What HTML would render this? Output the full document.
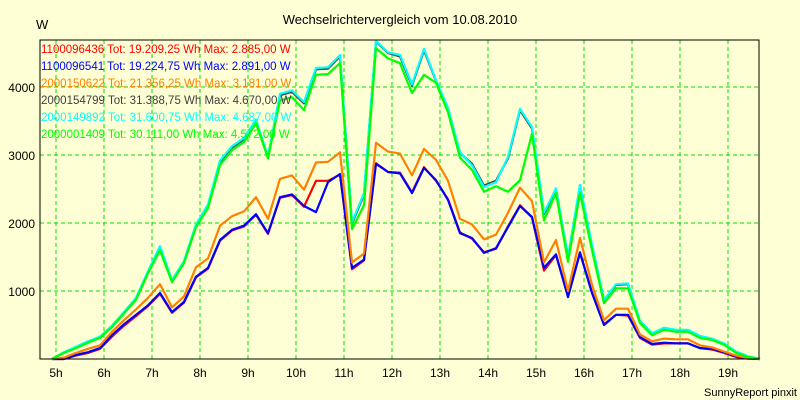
<!DOCTYPE html>
<html><head><meta charset="utf-8"><style>
body{margin:0;background:#ffffd5;}
svg{display:block;font-family:"Liberation Sans",sans-serif;}
</style></head><body>
<svg id="chart" width="800" height="400" viewBox="0 0 800 400">
<rect x="0" y="0" width="800" height="400" fill="#ffffd5"/>
<text x="400" y="24" font-size="13" text-anchor="middle">Wechselrichtervergleich vom 10.08.2010</text>
<text x="36" y="29" font-size="13">W</text>
<g id="grid"></g><g id="series"></g><g id="axes"></g><g id="legend"></g>
<text x="797" y="396" font-size="11" text-anchor="end">SunnyReport pinxit</text>
</svg>
<script>
const startHour = 4 + 55/60;
const stepHour = 0.25;
const xTicks = [5,6,7,8,9,10,11,12,13,14,15,16,17,18,19];
const yTicks = [1000,2000,3000,4000];
const seriesNames = ["1100096436","1100096541","2000150622","2000154799","2000149892","2000001409"];
const seriesColors = ["#ff0000","#0000ff","#ff8000","#404040","#00ffff","#00ff00"];
const legendText = ["Tot: 19.209,25 Wh Max: 2.885,00 W","Tot: 19.224,75 Wh Max: 2.891,00 W","Tot: 21.356,25 Wh Max: 3.181,00 W","Tot: 31.388,75 Wh Max: 4.670,00 W","Tot: 31.600,75 Wh Max: 4.687,00 W","Tot: 30.111,00 Wh Max: 4.572,00 W"];
const red = [0,0,50,90,150,330,490,630,780,960,680,830,1200,1330,1740,1890,1950,2120,1840,2370,2410,2240,2620,2620,2710,1320,1450,2880,2750,2740,2450,2820,2620,2350,1860,1770,1570,1620,1950,2260,2080,1300,1530,920,1570,980,510,650,640,310,210,230,230,230,160,140,90,30,5,0];
const blue = [0,0,60,100,160,350,510,650,790,970,690,840,1210,1340,1750,1900,1960,2130,1850,2380,2420,2250,2160,2600,2720,1340,1460,2870,2750,2730,2440,2810,2630,2340,1850,1780,1560,1630,1940,2250,2090,1340,1540,910,1560,970,500,650,650,320,220,240,230,230,160,150,100,40,10,0];
const orange = [0,20,90,150,200,400,570,730,900,1100,760,920,1350,1480,1960,2100,2170,2380,2060,2650,2700,2490,2890,2900,3040,1420,1550,3180,3050,3020,2700,3090,2930,2620,2060,1980,1760,1830,2150,2520,2320,1420,1750,1000,1780,1090,570,740,740,360,260,300,290,290,200,170,110,50,15,0];
const dark = [0,95,170,250,320,480,680,890,1270,1640,1150,1430,1970,2250,2900,3110,3230,3500,2960,3880,3930,3760,4260,4270,4450,1990,2420,4670,4500,4450,4020,4540,4090,3680,3030,2870,2550,2620,2950,3660,3390,2130,2490,1490,2540,1660,860,1090,1100,550,370,450,420,420,330,290,220,100,35,0];
const cyan = [0,100,180,260,330,490,690,900,1290,1660,1160,1440,1980,2270,2920,3130,3250,3520,2980,3900,3950,3780,4280,4290,4470,2010,2440,4680,4510,4470,4040,4560,4100,3690,3040,2850,2530,2600,2970,3680,3410,2150,2510,1500,2560,1680,870,1100,1110,560,380,460,430,430,340,300,230,110,40,0];
const green = [0,90,160,240,310,470,670,870,1260,1600,1130,1410,1940,2220,2850,3070,3190,3470,2950,3800,3850,3660,4180,4190,4350,1910,2260,4570,4420,4350,3910,4180,4060,3630,2960,2780,2460,2540,2460,2630,3310,2040,2440,1430,2440,1600,820,1040,1040,530,350,430,400,400,310,280,210,90,30,0];

const NS="http://www.w3.org/2000/svg";
const L=40,R=759,T=40,B=359;
function xScale(h){return 56+(h-5)*48;}
function yScale(v){return B-v*0.068;}
function mk(tag,attrs,parent){const e=document.createElementNS(NS,tag);for(const k in attrs)e.setAttribute(k,attrs[k]);parent.appendChild(e);return e;}
const grid=document.getElementById('grid'),axes=document.getElementById('axes'),ser=document.getElementById('series'),leg=document.getElementById('legend');
xTicks.forEach(h=>{
  const x=xScale(h);
  const g=mk('line',{x1:x,x2:x,y1:T,y2:B,stroke:'#00e000','stroke-dasharray':'4,3'},grid);
  
  
  const t=mk('text',{x:x,y:377,'font-size':12,'text-anchor':'middle'},axes);
  t.textContent=h+'h';
  
  
});
yTicks.forEach(v=>{
  const y=yScale(v);
  const g=mk('line',{x1:L,x2:R,y1:y,y2:y,stroke:'#00e000','stroke-dasharray':'4,3'},grid);
  
  
  const t=mk('text',{x:35,y:y+5,'font-size':12,'text-anchor':'end'},axes);
  t.textContent=v;
  
  
});
const frame=mk('rect',{x:L,y:T,width:R-L,height:B-T,fill:'none',stroke:'#000','stroke-width':1},axes);


const allSeries=[red,blue,orange,dark,cyan,green];
allSeries.forEach((data,si)=>{
  const pts=data.map((v,i)=>xScale(startHour+i*stepHour).toFixed(1)+','+yScale(v).toFixed(1)).join(' ');
  const p=mk('polyline',{points:pts,fill:'none',stroke:seriesColors[si],'stroke-width':2.2,'stroke-linejoin':'round'},ser);
  
  
});
seriesNames.forEach((n,i)=>{
  const t=mk('text',{x:41,y:53+i*17,'font-size':11.5,fill:seriesColors[i]},leg);
  t.textContent=n+' '+legendText[i];
  
  
});
</script>
</body></html>
